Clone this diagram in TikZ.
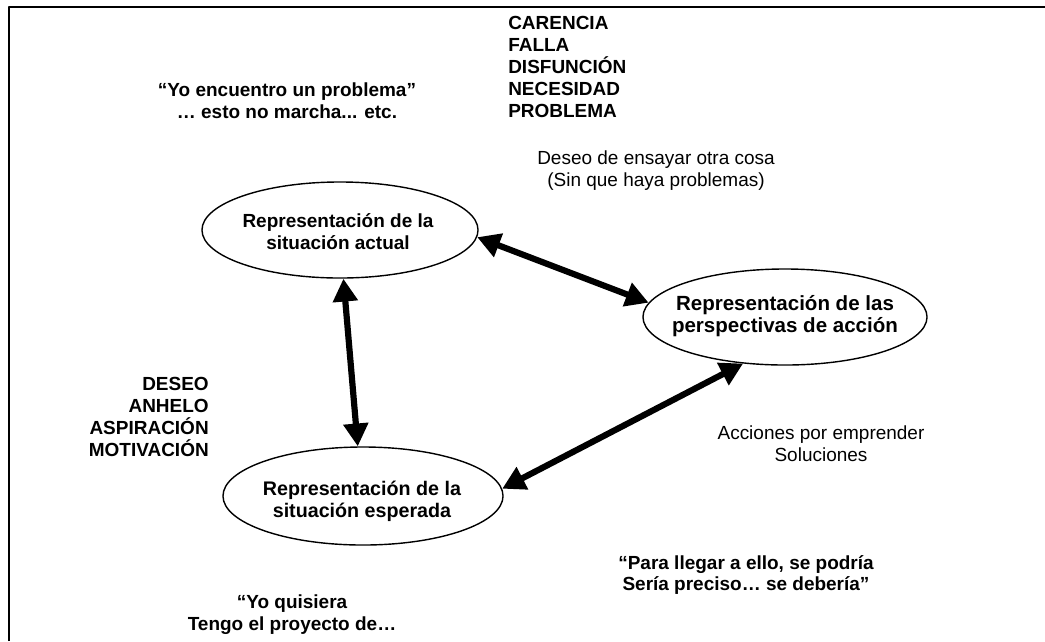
\documentclass[tikz,border=0pt]{standalone}
\usepackage{fontspec}
\setmainfont{Liberation Sans}
\usetikzlibrary{arrows.meta,shapes.geometric}
\tikzset{
  bubble/.style={draw,ellipse,line width=1pt,inner sep=0pt},
  words/.style={align=center,inner sep=0pt,font=\fontsize{13.5}{15.6}\selectfont\bfseries},
  plain/.style={align=center,inner sep=0pt,font=\fontsize{13.5}{15.6}\selectfont},
  dbl/.style={{Triangle[length=5.7mm,width=6mm]}-{Triangle[length=5.7mm,width=6mm]},line width=4.4pt}
}
\begin{document}
\begin{tikzpicture}[x=0.025cm,y=-0.025cm,line join=round]
\useasboundingbox (0,0) rectangle (1045,641);
\path
(9,641) coordinate (F1)
(9,7) coordinate (F2)
(1045,7) coordinate (F3)
;
\draw[line width=1.4pt] (F1)--(F2)--(F3);
% the three situations
\path
(340,230) node[bubble,minimum width=6.9cm,minimum height=2.4cm] (actual) {}
(785,317) node[bubble,minimum width=7.1cm,minimum height=2.4cm] (perspect) {}
(363,496) node[bubble,minimum width=7cm,minimum height=2.45cm] (expected) {}
;
\node[words] (actualtxt) at (338,232) {Representación de la\\situación actual};
\node[words,font=\fontsize{14.6}{15.6}\selectfont\bfseries] (perspecttxt) at (785,316) {Representación de las\\perspectivas de acción};
\node[words,font=\fontsize{14}{15.6}\selectfont\bfseries] (expectedtxt) at (362,501) {Representación de la\\situación esperada};
\foreach \a/\b in {actual.-3/perspect.174,actual.-86/expected.96,expected.3/perspect.-132}
\draw[dbl] (\a)--(\b);
% side texts
\node[words] (problem) at (287,101) {“Yo encuentro un problema”\\… esto no marcha... etc.};
\node[words,align=left,anchor=north west] (lack) at (508,16) {CARENCIA\\FALLA\\DISFUNCIÓN\\NECESIDAD\\PROBLEMA};
\node[plain] (try) at (656,171) {Deseo de ensayar otra cosa\\(Sin que haya problemas)};
\node[words,align=right,anchor=north east] (wish) at (209,377) {DESEO\\ANHELO\\ASPIRACIÓN\\MOTIVACIÓN};
\node[plain] (actions) at (821,444) {Acciones por emprender\\Soluciones};
\node[words] (reach) at (746,575) {“Para llegar a ello, se podría\\Sería preciso… se debería”};
\node[words] (project) at (292,615) {“Yo quisiera\\Tengo el proyecto de…};
\end{tikzpicture}
\end{document}
